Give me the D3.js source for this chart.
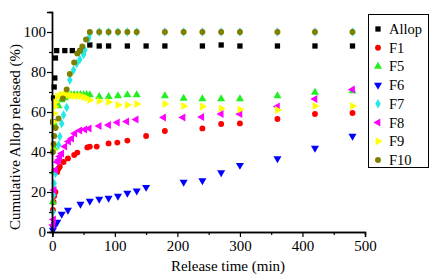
<!DOCTYPE html>
<html lang="en">
<head>
<meta charset="utf-8">
<title>Cumulative Allop release</title>
<script src="https://d3js.org/d3.v7.min.js"></script>
<style>
  body { margin: 0; background: #fff; }
</style>
</head>
<body>
<div id="vis"></div>
<script>
const width = 432, height = 278;
const serif = "Liberation Serif";

// series names, shown in the legend
const seriesNames = ["Allop", "F1", "F5", "F6", "F7", "F8", "F9", "F10"];

// time points (min) and cumulative release (%) per series
const allopT = [1, 2, 3, 4, 5, 7, 20, 32, 45, 60, 75, 90, 120, 150, 180, 240, 270, 300, 360, 420, 480];
const allopV = [55, 67, 72.5, 77, 87, 90.7, 90.7, 90.7, 90.7, 93.5, 93, 93, 93, 93, 93, 93, 93.5, 93, 93, 93, 93];

const f1T = [1, 2, 3, 5, 8, 10, 12, 18, 25, 35, 40, 56, 60, 71, 90, 104, 120, 150, 180, 240, 270, 300, 360, 420, 480];
const f1V = [11, 15, 18, 20, 30, 31.8, 32.7, 35, 36.8, 38.5, 39.7, 42.3, 42.7, 42.7, 44.3, 44.7, 45.7, 48, 50.5, 51.8, 54, 54.3, 56.5, 59, 59.5];

const f5T = [1, 2, 3, 5, 10, 15, 20, 25, 30, 35, 40, 45, 50, 55, 60, 75, 90, 105, 120, 135, 180, 210, 240, 270, 300, 360, 420, 480];
const f5V = [15, 30, 42, 53, 63, 66, 67, 68, 68.5, 68.7, 68.5, 68.7, 68.5, 68.7, 68.5, 67.7, 67.7, 68, 68.5, 68.5, 68, 66.8, 66.5, 66.5, 66.5, 68, 69.8, 70.5];

const f6T = [1, 2, 4, 8, 15, 25, 45, 60, 75, 90, 105, 120, 135, 150, 210, 240, 270, 300, 360, 420, 480];
const f6V = [1, 2.2, 4, 5, 9, 11, 14, 15.5, 16.5, 17, 18, 19.5, 20.6, 22.4, 25, 25.7, 29.7, 33.4, 36.7, 42, 48];

const f7T = [1, 2, 3, 5, 10, 12, 15, 18, 23, 28, 34, 39, 44, 50, 52, 58, 60, 75, 90, 105, 120, 135, 180, 210, 240, 270, 300, 360, 420, 480];
const f7V = [10, 18.5, 24.3, 29.3, 43.5, 47.7, 54.3, 58.5, 62.3, 76, 81, 84.3, 86.3, 88.8, 91, 96.8, 99.3, 100, 100, 100, 100, 100, 100, 100, 100, 100, 100, 100, 100, 100];

const f8T = [1, 2, 3, 5, 8, 10, 12, 15, 20, 26, 31, 36, 44, 52, 59, 75, 90, 104, 119, 134, 178, 209, 239, 270, 300, 360, 420, 480];
const f8V = [3.5, 6.3, 21, 31, 35, 36, 37.7, 39.3, 42.7, 45.2, 46.8, 49.3, 50.7, 51.3, 51.8, 53, 53.5, 54.7, 55.2, 56.3, 57.3, 57.3, 57.5, 59, 59, 62.7, 66.5, 71.3];

const f9T = [1, 2, 3, 4, 5, 8, 12, 15, 20, 25, 30, 35, 40, 45, 50, 55, 60, 75, 90, 105, 120, 135, 180, 210, 240, 270, 300, 360, 420, 480];
const f9V = [41, 55, 59.3, 62.7, 65, 67.7, 68, 68.8, 68.8, 68.5, 68.3, 68, 68, 68, 67.5, 67, 66, 65.5, 65, 63.5, 63.5, 64, 64, 63, 62.7, 61.8, 61.3, 61, 63, 63];

const f10T = [1, 2, 3, 5, 10, 17, 23, 28, 35, 40, 44, 48, 54, 60, 75, 90, 105, 120, 135, 180, 210, 240, 270, 300, 360, 420, 480];
const f10V = [40, 44, 48, 52, 56.8, 66.8, 71.3, 79, 84.7, 89.3, 90.5, 92.7, 96.3, 100, 100, 100, 100, 100, 100, 100, 100, 100, 100, 100, 100, 100, 100];

const xTicks = [0, 100, 200, 300, 400, 500];
const yTicks = [0, 20, 40, 60, 80, 100];

const seriesT = [allopT, f1T, f5T, f6T, f7T, f8T, f9T, f10T];
const seriesV = [allopV, f1V, f5V, f6V, f7V, f8V, f9V, f10V];
const colors = ["#000000", "#ff0000", "#22ee22", "#0000ff", "#22e8e8", "#ff00ff", "#ffff00", "#808000"];

// marker shape and rotation per series
const shapes = [
  {type: d3.symbolSquare, size: 28, rot: 0},
  {type: d3.symbolCircle, size: 27, rot: 0},
  {type: d3.symbolTriangle, size: 28, rot: 0},
  {type: d3.symbolTriangle, size: 28, rot: 180},
  {type: d3.symbolDiamond, size: 26, rot: 0},
  {type: d3.symbolTriangle, size: 28, rot: -90},
  {type: d3.symbolTriangle, size: 28, rot: 90},
  {type: d3.symbolCircle, size: 28, rot: 0}
];

const xScale = d3.scaleLinear().domain([0, 500]).range([52.3, 365]);
const yScale = d3.scaleLinear().domain([0, 110]).range([232, 12]);

const svg = d3.select("#vis").append("svg")
  .attr("width", width)
  .attr("height", height)
  .attr("font-family", serif);

// points
seriesNames.forEach((name, i) => {
  const pts = seriesT[i].map((t, j) => ({t: t, v: seriesV[i][j]}));
  const sym = d3.symbol().type(shapes[i].type).size(shapes[i].size);
  svg.append("g")
    .selectAll("path")
    .data(pts)
    .enter()
    .append("path")
    .attr("d", sym)
    .attr("transform", d => "translate(" + xScale(d.t) + "," + yScale(d.v) + ") rotate(" + shapes[i].rot + ")")
    .attr("fill", colors[i]);
});

// axes
const bottomAxis = d3.axisBottom(xScale).tickValues(xTicks).tickSize(5).tickPadding(3).tickFormat(d3.format("d"));
const bottomMinor = d3.axisBottom(xScale).tickValues([50, 150, 250, 350, 450]).tickSize(3).tickFormat("");
const leftAxis = d3.axisLeft(yScale).tickValues(yTicks).tickSize(5).tickPadding(1).tickFormat(d3.format("d"));
const leftMinor = d3.axisLeft(yScale).tickValues([10, 30, 50, 70, 90]).tickSize(3).tickFormat("");

function styleAxis(g) {
  g.attr("font-family", serif).attr("font-size", 15);
  g.select(".domain").attr("stroke", "#000").attr("stroke-width", 1.4).attr("fill", "none");
  g.selectAll(".tick line").attr("stroke", "#000").attr("stroke-width", 1.2);
  g.selectAll(".tick text").attr("fill", "#000");
}

svg.append("g").attr("transform", "translate(0,232)").call(bottomMinor).call(styleAxis);
svg.append("g").attr("transform", "translate(0,232)").call(bottomAxis).call(styleAxis);
svg.append("g").attr("transform", "translate(52,0)").call(leftMinor).call(styleAxis);
svg.append("g").attr("transform", "translate(52,0)").call(leftAxis).call(styleAxis);

// axis titles
svg.append("text")
  .attr("x", 228)
  .attr("y", 271)
  .attr("text-anchor", "middle")
  .attr("font-size", 15)
  .text("Release time (min)");

svg.append("text")
  .attr("transform", "translate(20,137) rotate(-90)")
  .attr("text-anchor", "middle")
  .attr("font-size", 15)
  .text("Cumulative Allop released (%)");

// legend
const legend = svg.append("g");
legend.append("rect")
  .attr("x", 368.5).attr("y", 14.5)
  .attr("width", 60).attr("height", 153)
  .attr("fill", "#fff")
  .attr("stroke", "#000")
  .attr("stroke-width", 1);

seriesNames.forEach((name, i) => {
  const cy = 29 + i * 18.7;
  legend.append("path")
    .attr("d", d3.symbol().type(shapes[i].type).size(shapes[i].size)())
    .attr("transform", "translate(378," + cy + ") rotate(" + shapes[i].rot + ")")
    .attr("fill", colors[i]);
  legend.append("text")
    .attr("x", 389)
    .attr("y", cy + 5)
    .attr("font-size", 14.5)
    .text(name);
});
</script>
</body>
</html>
